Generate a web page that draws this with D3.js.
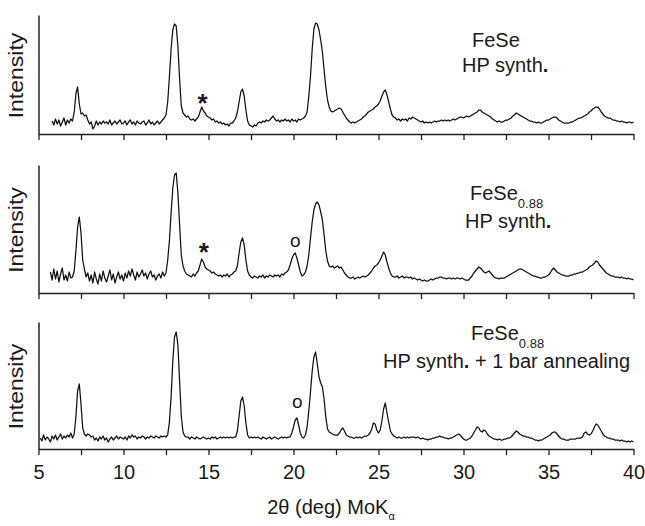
<!DOCTYPE html>
<html>
<head>
<script src="https://cdnjs.cloudflare.com/ajax/libs/d3/7.8.5/d3.min.js"></script>
<style>
  body { margin: 0; background: #fff; }
  text { font-family: "Liberation Sans", Arial, Helvetica, sans-serif; fill: #1a1a1a; }
</style>
</head>
<body>
<div id="vis"></div>
<script>
// 2theta axis
const xDomain = [5, 40];
const xTickValues = [5, 7.5, 10, 12.5, 15, 17.5, 20, 22.5, 25, 27.5, 30, 32.5, 35, 37.5, 40];
const xTickLabels = [5, 10, 15, 20, 25, 30, 35, 40];

// intensity (arb. units), one row per degree starting at 5 deg, 0.1 deg steps
const feseHP = [
  [null,null,null,null,null,null,null,null,13,9],
  [15,10,14,8,12,16,9,14,11,15],
  [13,22,40,47,30,20,21,18,19,14],
  [10,12,5,8,13,9,12,10,13,11],
  [12,10,14,9,11,13,10,12,14,10],
  [11,13,9,12,14,10,12,9,13,11],
  [10,12,13,9,11,14,10,12,9,11],
  [13,10,12,14,16,19,32,57,85,104],
  [110,108,88,55,28,21,19,17,18,15],
  [14,15,13,15,17,22,27,23,21,18],
  [17,16,14,15,12,13,11,12,10,11],
  [9,10,8,11,11,13,16,22,32,42],
  [45,38,24,13,9,8,7,9,8,11],
  [12,11,13,12,14,13,14,16,18,15],
  [13,14,12,14,13,15,13,14,12,15],
  [13,14,12,15,14,15,16,18,22,38],
  [58,85,105,111,110,104,94,82,64,47],
  [34,27,23,22,23,24,25,26,25,22],
  [19,16,14,12,11,12,11,12,13,14],
  [15,17,18,20,22,23,24,25,27,28],
  [30,33,38,42,44,39,32,25,19,17],
  [16,14,15,13,15,14,15,13,16,15],
  [17,16,15,14,13,12,13,11,12,11],
  [12,11,12,13,12,13,13,14,13,14],
  [13,14,13,14,15,14,15,16,17,17],
  [16,17,18,17,18,19,20,21,22,24],
  [24,22,21,20,19,18,17,15,14,13],
  [12,13,12,12,13,14,14,15,16,18],
  [19,21,20,19,18,17,16,15,14,13],
  [13,12,12,11,12,11,11,12,13,14],
  [14,15,16,17,17,16,14,13,12,11],
  [11,11,11,12,12,13,14,15,16,16],
  [17,18,19,20,22,23,25,26,27,27],
  [25,22,20,18,17,16,16,15,14,14],
  [13,13,12,13,12,12,11,12,12,11],
  [12]
];

const fese088HP = [
  [null,null,null,null,null,null,null,21,13,24],
  [14,22,11,19,25,13,18,12,21,15],
  [16,22,42,66,76,60,33,24,16,20],
  [12,18,10,21,14,9,19,12,22,15],
  [11,17,23,13,19,10,16,21,14,18],
  [12,20,15,22,17,24,18,13,21,16],
  [19,23,17,20,14,19,22,16,18,13],
  [17,19,15,21,17,20,33,52,80,105],
  [118,120,100,68,38,27,22,19,18,17],
  [16,19,17,20,22,28,34,31,26,24],
  [23,22,20,21,19,18,17,18,16,18],
  [17,19,16,18,19,21,22,27,40,51],
  [55,48,33,22,18,16,15,17,16,15],
  [17,16,18,15,17,16,18,17,16,18],
  [17,18,16,19,18,20,21,23,28,34],
  [38,40,35,28,21,17,18,21,27,38],
  [55,71,83,89,91,88,81,73,58,42],
  [32,27,26,27,25,26,27,25,26,23],
  [20,18,16,15,15,16,14,15,16,15],
  [16,17,16,17,18,20,22,25,27,28],
  [30,33,37,41,38,31,25,20,17,16],
  [16,17,15,16,17,15,16,16,15,16],
  [14,15,14,13,14,13,12,13,12,12],
  [13,14,13,14,15,15,16,16,15,15],
  [14,15,15,14,15,14,15,15,14,15],
  [14,13,13,13,15,17,20,22,24,26],
  [25,23,21,20,21,22,20,18,16,15],
  [15,14,15,15,15,16,17,18,19,20],
  [21,22,23,24,24,23,22,21,20,19],
  [18,17,17,16,16,15,15,16,16,17],
  [18,20,23,25,23,21,20,19,18,18],
  [17,17,17,18,18,19,19,20,20,21],
  [21,22,23,24,26,27,28,30,32,31],
  [28,26,24,22,20,19,18,17,17,16],
  [16,16,15,16,15,15,14,15,14,14],
  [13]
];

const fese088Annealed = [
  [null,11,8,14,9,12,10,7,13,10],
  [14,9,12,15,10,13,11,14,12,16],
  [11,15,32,58,65,45,21,15,13,15],
  [14,12,13,9,11,8,12,10,13,9],
  [11,7,10,12,9,11,13,10,12,11],
  [10,12,9,13,11,14,12,13,10,12],
  [11,13,12,10,12,11,13,12,11,13],
  [12,11,13,12,13,12,14,27,52,88],
  [112,117,104,68,33,17,13,12,12,10],
  [12,11,10,12,11,10,11,12,11,10],
  [11,10,12,11,12,10,11,12,11,12],
  [11,12,11,12,11,12,12,18,33,48],
  [52,43,26,14,11,12,11,12,11,12],
  [11,10,12,11,10,11,12,10,11,12],
  [11,10,11,12,11,12,11,12,12,16],
  [22,29,31,24,16,12,11,14,22,38],
  [57,78,92,97,85,72,66,62,50,32],
  [20,17,16,15,14,14,14,16,19,21],
  [18,14,13,12,12,11,11,12,11,12],
  [11,12,13,13,14,16,20,26,25,19],
  [16,19,28,40,46,36,27,18,15,13],
  [12,11,12,11,11,12,11,12,11,12],
  [12,12,11,12,11,10,11,10,10,9],
  [10,10,11,11,12,12,13,12,12,11],
  [11,10,11,11,12,13,14,15,14,12],
  [10,9,9,10,11,13,16,19,22,21],
  [18,17,19,18,15,13,12,11,10,10],
  [9,10,9,9,10,10,11,11,12,14],
  [16,18,17,15,14,13,13,12,12,11],
  [11,10,9,9,8,9,9,10,11,12],
  [13,14,16,17,17,15,13,11,10,10],
  [9,9,9,10,10,10,10,11,11,11],
  [12,16,17,15,14,15,18,22,25,24],
  [21,18,15,13,12,11,11,10,10,9],
  [9,9,8,9,8,8,7,8,7,8],
  [7]
];

const seriesRows = [feseHP, fese088HP, fese088Annealed];
const yMax = [119, 128, 127];
const sampleNames = ["FeSe", "FeSe", "FeSe"];
const sampleSubs = ["", "0.88", "0.88"];
const sampleNotes = ["HP synth", "HP synth", "HP synth"];
const noteTails = ["", "", " + 1 bar annealing"];
// markers above impurity peaks: [panel, 2theta, intensity, symbol]
const peakMarks = [
  [0, 14.65, 36, "*"],
  [1, 14.72, 46, "*"],
  [1, 20.1, 51, "o"],
  [2, 20.22, 46, "o"]
];

// layout
const W = 645, H = 526;
const panelTop = [15, 165, 322];
const panelBottom = [134, 293, 449];
const plotLeft = 38.5, plotRight = 633.5;
const nameX = [472, 470, 471], nameY = [47, 200, 340];
const noteX = [462, 465, 383], noteY = [72, 228, 368];

const svg = d3.select("#vis").append("svg")
  .attr("width", W)
  .attr("height", H);

const x = d3.scaleLinear().domain(xDomain).range([plotLeft, plotRight]);

function toPoints(rows) {
  const pts = [];
  rows.forEach((row, r) => {
    row.forEach((v, i) => {
      if (v !== null) pts.push([xDomain[0] + r + i / row.length, v]);
    });
  });
  return pts;
}

seriesRows.forEach((rows, k) => {
  const y = d3.scaleLinear().domain([0, yMax[k]]).range([panelBottom[k], panelTop[k]]);
  const g = svg.append("g");

  // curve
  g.append("path")
    .datum(toPoints(rows))
    .attr("fill", "none")
    .attr("stroke", "#111")
    .attr("stroke-width", 1.25)
    .attr("stroke-linejoin", "round")
    .attr("d", d3.line().x(d => x(d[0])).y(d => y(d[1])));

  // axes
  const xAxis = d3.axisBottom(x)
    .tickValues(xTickValues)
    .tickSize(6)
    .tickSizeOuter(0)
    .tickFormat(d => (k === 2 && xTickLabels.includes(d)) ? d : "");
  const gx = g.append("g")
    .attr("transform", `translate(0,${panelBottom[k]})`)
    .call(xAxis);
  gx.select(".domain").attr("stroke", "#222").attr("stroke-width", 1.5);
  gx.selectAll(".tick line").attr("stroke", "#222").attr("stroke-width", 1.3);
  gx.selectAll(".tick text")
    .attr("font-size", 20)
    .attr("font-family", null)
    .attr("fill", "#1a1a1a")
    .attr("dy", null)
    .attr("y", 30);

  const yAxis = d3.axisLeft(y).tickValues([]).tickSizeOuter(0);
  const gy = g.append("g")
    .attr("transform", `translate(${plotLeft},0)`)
    .call(yAxis);
  gy.select(".domain").attr("stroke", "#222").attr("stroke-width", 1.5);

  // y label
  const cy = (panelTop[k] + panelBottom[k]) / 2 + 1;
  g.append("text")
    .attr("transform", `translate(23,${cy}) rotate(-90) scale(1.15,1)`)
    .attr("text-anchor", "middle")
    .attr("font-size", 20)
    .text("Intensity");

  // sample label
  const t1 = g.append("text")
    .attr("x", nameX[k]).attr("y", nameY[k])
    .attr("font-size", 20);
  t1.append("tspan").text(sampleNames[k]);
  if (sampleSubs[k]) {
    t1.append("tspan").attr("font-size", 13).attr("dy", 8).text(sampleSubs[k]);
  }
  const t2 = g.append("text")
    .attr("x", noteX[k]).attr("y", noteY[k])
    .attr("font-size", 20);
  t2.append("tspan").text(sampleNotes[k]);
  t2.append("tspan").attr("font-weight", "bold").text(".");
  if (noteTails[k]) t2.append("tspan").text(noteTails[k]);

  // peak markers
  peakMarks.filter(m => m[0] === k).forEach(m => {
    const star = m[3] === "*";
    g.append("text")
      .attr("x", x(m[1]))
      .attr("y", y(m[2]))
      .attr("dy", star ? 14 : 5)
      .attr("text-anchor", "middle")
      .attr("font-size", star ? 26 : 19)
      .attr("font-weight", star ? "bold" : "normal")
      .text(m[3]);
  });
});

// x axis title
const title = svg.append("text")
  .attr("x", 331)
  .attr("y", 514)
  .attr("text-anchor", "middle")
  .attr("font-size", 20);
title.append("tspan").text("2\u03B8 (deg) MoK");
title.append("tspan").attr("font-size", 11).attr("dy", 6).text("\u03B1");
</script>
</body>
</html>
